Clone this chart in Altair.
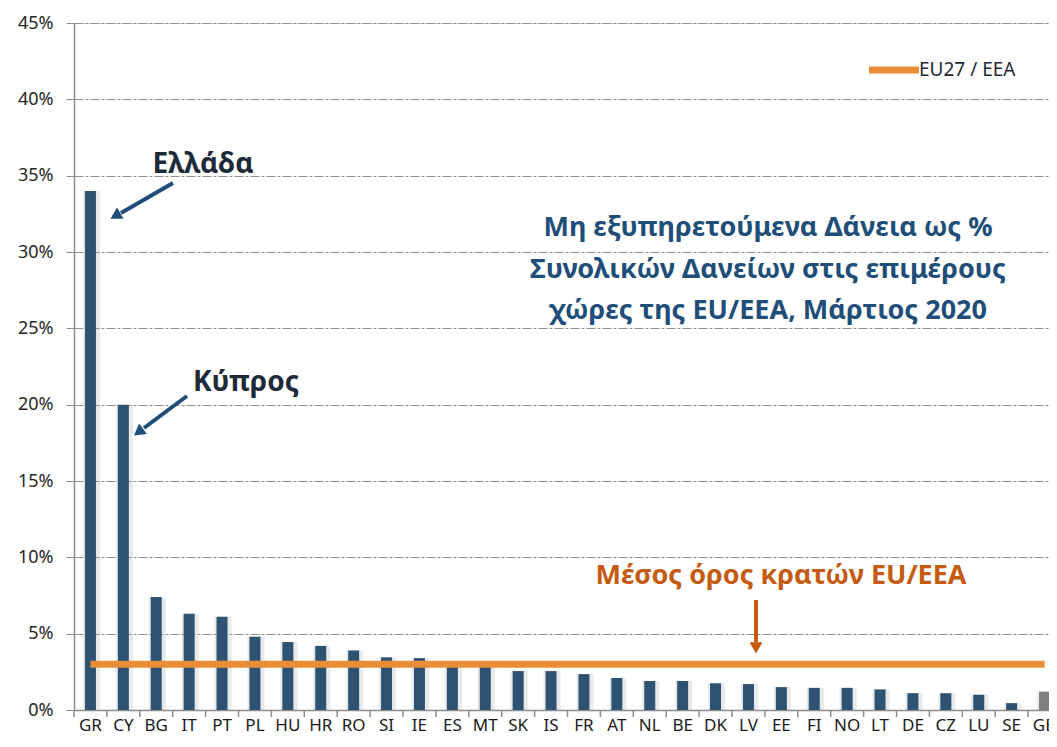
import altair as alt
import pandas as pd

countries = ["GR", "CY", "BG", "IT", "PT", "PL", "HU", "HR", "RO", "SI", "IE", "ES", "MT", "SK", "IS",
             "FR", "AT", "NL", "BE", "DK", "LV", "EE", "FI", "NO", "LT", "DE", "CZ", "LU", "SE", "GB"]
npl = [34.0, 20.0, 7.4, 6.3, 6.1, 4.8, 4.45, 4.2, 3.9, 3.45, 3.4, 2.95, 2.9, 2.55, 2.55,
       2.35, 2.1, 1.9, 1.9, 1.75, 1.7, 1.5, 1.45, 1.45, 1.35, 1.1, 1.1, 1.0, 0.45, 1.2]
groups = ["EU"] * 29 + ["UK"]
eu_avg = 3.0
y_ticks = [0, 5, 10, 15, 20, 25, 30, 35, 40, 45]

title_lines = ["Μη εξυπηρετούμενα Δάνεια ως %",
               "Συνολικών Δανείων στις επιμέρους",
               "χώρες της EU/EEA,  Μάρτιος 2020"]

df = pd.DataFrame({"country": countries, "npl": npl, "group": groups})
avg_df = pd.DataFrame({"country": countries, "avg": [eu_avg] * len(countries)})

W, H = 975, 687
FONT = "Noto Sans"
BLUE = "#2E5372"
TITLE_BLUE = "#1F4E79"
ORANGE = "#E98E36"
DARK_ORANGE = "#C55A11"

xscale = alt.Scale(domain=countries, range=[0, 987], paddingInner=0, paddingOuter=0)
yscale = alt.Scale(domain=[0, 45], nice=False)

x_enc = alt.X("country:N", scale=xscale, sort=countries,
              axis=alt.Axis(title=None, ticks=False, labelFontSize=17, labelColor="#1a1a1a",
                            labelFont=FONT, labelAngle=0, labelPadding=7,
                            domainColor="#8c8c8c", domainWidth=1.5))
y_enc = alt.Y("npl:Q", scale=yscale,
              axis=alt.Axis(title=None, values=y_ticks, labelExpr="datum.value + '%'",
                            labelFontSize=18, labelColor="#262626", labelFont=FONT, labelPadding=13,
                            tickSize=8, tickColor="#8c8c8c", domainColor="#8c8c8c", domainWidth=1.5,
                            grid=True, gridColor="#8f8f8f", gridDash=[9, 2, 3, 2], gridWidth=1))

shadow = alt.Chart(df).mark_bar(size=17, color="#9a9a9a", opacity=0.22, xOffset=1).encode(
    x=x_enc, y=y_enc)
bars = alt.Chart(df).mark_bar(size=11).encode(
    x=alt.X("country:N", scale=xscale, sort=countries),
    y=alt.Y("npl:Q", scale=yscale),
    color=alt.Color("group:N", scale=alt.Scale(domain=["EU", "UK"], range=[BLUE, "#7f7f7f"]), legend=None))

ticks = alt.Chart(df).mark_rule(color="#8c8c8c", strokeWidth=1.5, xOffset=-16.45).encode(
    x=alt.X("country:N", scale=xscale, sort=countries),
    y=alt.value(H), y2=alt.value(H + 7))

avg_line = alt.Chart(avg_df).mark_line(color=ORANGE, strokeWidth=7, strokeCap="butt").encode(
    x=alt.X("country:N", scale=xscale, sort=countries),
    y=alt.Y("avg:Q", scale=yscale))

# Title block
title_df = pd.DataFrame({"t": title_lines, "py": [205, 247, 288]})
title = alt.Chart(title_df).mark_text(font=FONT, fontSize=27, fontWeight="bold", color=TITLE_BLUE,
                                      align="center", baseline="middle").encode(
    x=alt.value(694), y=alt.Y("py:Q", scale=None), text="t:N")

# Annotations
labels_df = pd.DataFrame({"t": ["Ελλάδα", "Κύπρος"], "px": [129, 172], "py": [142, 360]})
ann = alt.Chart(labels_df).mark_text(font=FONT, fontSize=28, fontWeight="bold", color="#1e2a38",
                                     align="center", baseline="middle").encode(
    x=alt.X("px:Q", scale=None), y=alt.Y("py:Q", scale=None), text="t:N")

avg_label = alt.Chart(pd.DataFrame({"t": ["Μέσος όρος κρατών EU/EEA"]})).mark_text(
    font=FONT, fontSize=27, fontWeight="bold", color=DARK_ORANGE, align="center", baseline="middle").encode(
    x=alt.value(707), y=alt.value(553), text="t:N")

arrows_df = pd.DataFrame({
    "x1": [99, 113, 682], "y1": [160, 373, 577],
    "x2": [47, 70, 682], "y2": [190, 405, 619],
    "hx": [43, 66, 682], "hy": [192, 408, 623],
    "ang": [240, 233.5, 180],
    "c": [TITLE_BLUE, TITLE_BLUE, DARK_ORANGE]})
arrow_lines = alt.Chart(arrows_df).mark_rule(strokeWidth=4).encode(
    x=alt.X("x1:Q", scale=None), y=alt.Y("y1:Q", scale=None),
    x2="x2:Q", y2="y2:Q", color=alt.Color("c:N", scale=None))
arrow_heads = alt.Chart(arrows_df).mark_point(shape="triangle", size=170, filled=True, opacity=1).encode(
    x=alt.X("hx:Q", scale=None), y=alt.Y("hy:Q", scale=None),
    angle=alt.Angle("ang:Q", scale=None), color=alt.Color("c:N", scale=None))

# Legend
leg_line = alt.Chart(pd.DataFrame({"a": [1]})).mark_rule(color=ORANGE, strokeWidth=7).encode(
    x=alt.value(795), x2=alt.value(845), y=alt.value(47))
leg_text = alt.Chart(pd.DataFrame({"t": ["EU27 / EEA"]})).mark_text(
    font=FONT, fontSize=19, color="#1e2a38", align="left", baseline="middle").encode(
    x=alt.value(845), y=alt.value(47), text="t:N")

chart = alt.layer(shadow, bars, ticks, avg_line, title, ann, avg_label, arrow_lines, arrow_heads,
                  leg_line, leg_text).properties(
    width=W, height=H,
    autosize=alt.AutoSizeParams(type="none"),
    padding={"left": 66, "top": 15, "right": 0, "bottom": 29},
).configure_view(stroke=None).configure(background="white")

chart.save("out.html", embed_options={"renderer": "svg", "actions": False})
